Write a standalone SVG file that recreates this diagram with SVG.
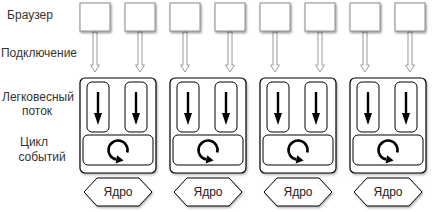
<svg xmlns="http://www.w3.org/2000/svg" width="432" height="212" viewBox="0 0 432 212">
<style>
.lbl{font-family:"Liberation Sans",Arial,sans-serif;font-size:12px;fill:#333;text-anchor:middle}
.kt{font-family:"Liberation Sans",Arial,sans-serif;font-size:12px;fill:#222;text-anchor:middle}
.br{fill:#fff;stroke:#8a8a8a;stroke-width:1;filter:url(#sh)}
.ct{fill:#fff;stroke:#000;stroke-width:1.2;filter:url(#sh2)}
.in{fill:#fff;stroke:#000;stroke-width:1}
.hx{fill:#fff;stroke:#000;stroke-width:1;filter:url(#sh2)}
.conn{fill:#fff;stroke:#9a9a9a;stroke-width:1}
.ta{stroke:#000;stroke-width:2.4;fill:none}
.loop{stroke:#000;stroke-width:2.6;fill:none}
</style>
<defs>
<filter id="sh" x="-20%" y="-20%" width="150%" height="150%"><feDropShadow dx="1" dy="1.5" stdDeviation="1" flood-color="#000" flood-opacity="0.45"/></filter>
<filter id="sh2" x="-20%" y="-20%" width="150%" height="150%"><feDropShadow dx="1" dy="1.5" stdDeviation="0.8" flood-color="#000" flood-opacity="0.3"/></filter>
<g id="conn-shape"><path class="conn" d="M-2,0 V33 H-4.5 L0,40 L4.5,33 H2 V0 Z"/></g>
<g id="thread-arrow"><line class="ta" x1="0" y1="10" x2="0" y2="32"/><polygon points="-4,31 4,31 0,43" fill="#000"/></g>
<g id="loop-icon"><path class="loop" d="M47.2,152.5 A9.5,9.5 0 1 0 36.4,159.4"/><polygon points="37.1,155.3 35.7,163.4 43.6,160.6" fill="#000"/></g>
</defs>

<g id="labels">
<text class="lbl" x="30" y="19">Браузер</text>
<text class="lbl" x="39" y="57">Подключение</text>
<text class="lbl" x="38" y="101">Легковесный</text>
<text class="lbl" x="37" y="115">поток</text>
<text class="lbl" x="34" y="146">Цикл</text>
<text class="lbl" x="42" y="161">событий</text>
</g>

<g id="connectors">
<use href="#conn-shape" x="95" y="32"/>
<use href="#conn-shape" x="140" y="32"/>
<use href="#conn-shape" x="185" y="32"/>
<use href="#conn-shape" x="230" y="32"/>
<use href="#conn-shape" x="275" y="32"/>
<use href="#conn-shape" x="320" y="32"/>
<use href="#conn-shape" x="365" y="32"/>
<use href="#conn-shape" x="410" y="32"/>
</g>

<g id="browser1"><rect class="br" x="80" y="3" width="30" height="28"/></g>
<g id="browser2"><rect class="br" x="125" y="3" width="30" height="28"/></g>
<g id="browser3"><rect class="br" x="170" y="3" width="30" height="28"/></g>
<g id="browser4"><rect class="br" x="215" y="3" width="30" height="28"/></g>
<g id="browser5"><rect class="br" x="260" y="3" width="30" height="28"/></g>
<g id="browser6"><rect class="br" x="305" y="3" width="30" height="28"/></g>
<g id="browser7"><rect class="br" x="350" y="3" width="30" height="28"/></g>
<g id="browser8"><rect class="br" x="395" y="3" width="30" height="28"/></g>

<g id="process1" transform="translate(80,0)">
<rect class="ct" x="0" y="78" width="76" height="95" rx="5"/>
<rect class="in" x="7" y="82" width="22" height="50" rx="5"/>
<rect class="in" x="45" y="82" width="22" height="50" rx="5"/>
<use href="#thread-arrow" x="18" y="82"/>
<use href="#thread-arrow" x="56" y="82"/>
<rect class="in" x="3" y="135" width="70" height="30" rx="5"/>
<use href="#loop-icon"/>
</g>
<g id="process2" transform="translate(170,0)">
<rect class="ct" x="0" y="78" width="76" height="95" rx="5"/>
<rect class="in" x="7" y="82" width="22" height="50" rx="5"/>
<rect class="in" x="45" y="82" width="22" height="50" rx="5"/>
<use href="#thread-arrow" x="18" y="82"/>
<use href="#thread-arrow" x="56" y="82"/>
<rect class="in" x="3" y="135" width="70" height="30" rx="5"/>
<use href="#loop-icon"/>
</g>
<g id="process3" transform="translate(260,0)">
<rect class="ct" x="0" y="78" width="76" height="95" rx="5"/>
<rect class="in" x="7" y="82" width="22" height="50" rx="5"/>
<rect class="in" x="45" y="82" width="22" height="50" rx="5"/>
<use href="#thread-arrow" x="18" y="82"/>
<use href="#thread-arrow" x="56" y="82"/>
<rect class="in" x="3" y="135" width="70" height="30" rx="5"/>
<use href="#loop-icon"/>
</g>
<g id="process4" transform="translate(350,0)">
<rect class="ct" x="0" y="78" width="76" height="95" rx="5"/>
<rect class="in" x="7" y="82" width="22" height="50" rx="5"/>
<rect class="in" x="45" y="82" width="22" height="50" rx="5"/>
<use href="#thread-arrow" x="18" y="82"/>
<use href="#thread-arrow" x="56" y="82"/>
<rect class="in" x="3" y="135" width="70" height="30" rx="5"/>
<use href="#loop-icon"/>
</g>

<g id="kernel1" transform="translate(80,0)"><polygon class="hx" points="4,192 17,178 59,178 72,192 59,206 17,206"/><text class="kt" x="38" y="196">Ядро</text></g>
<g id="kernel2" transform="translate(170,0)"><polygon class="hx" points="4,192 17,178 59,178 72,192 59,206 17,206"/><text class="kt" x="38" y="196">Ядро</text></g>
<g id="kernel3" transform="translate(260,0)"><polygon class="hx" points="4,192 17,178 59,178 72,192 59,206 17,206"/><text class="kt" x="38" y="196">Ядро</text></g>
<g id="kernel4" transform="translate(350,0)"><polygon class="hx" points="4,192 17,178 59,178 72,192 59,206 17,206"/><text class="kt" x="38" y="196">Ядро</text></g>
</svg>
